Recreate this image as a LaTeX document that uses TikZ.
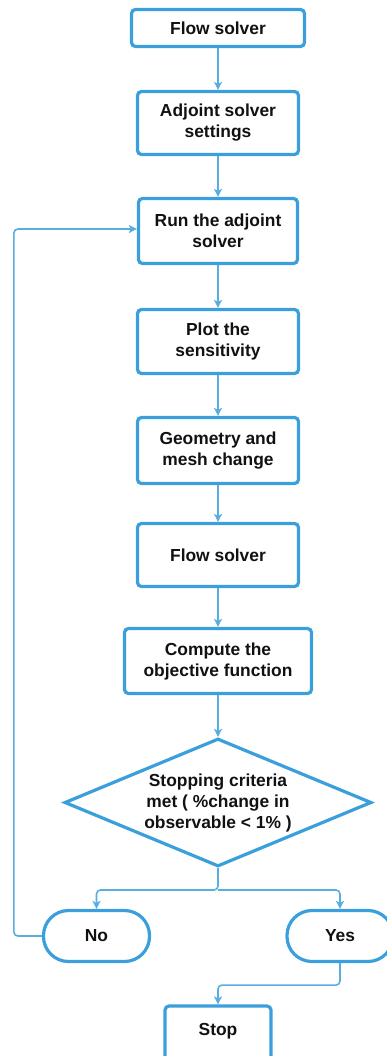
\documentclass[tikz,border=0pt]{standalone}
\usepackage{fontspec}
\setmainfont{Liberation Sans}
\usetikzlibrary{shapes.geometric,arrows.meta}
\definecolor{boxblue}{HTML}{3A9FDB}
\definecolor{linkblue}{HTML}{58AEE0}
\definecolor{ink}{HTML}{111111}
\begin{document}
\begin{tikzpicture}[x=1pt,y=-1pt,
  every node/.style={font=\bfseries\fontsize{17.4}{21}\selectfont, text=ink, align=center},
  proc/.style={draw=boxblue, line width=3.2pt, rounded corners=4pt, inner sep=0pt, fill=white},
  term/.style={draw=boxblue, line width=3.2pt, rounded corners=25pt, inner sep=0pt,
               minimum width=106pt, minimum height=51pt},
  decision/.style={shape=diamond, draw=boxblue, line width=3.2pt, aspect=2.37,
                   minimum width=307pt, minimum height=128pt, inner sep=0pt},
  link/.style={draw=linkblue, line width=1.6pt, rounded corners=4pt,
               -{Stealth[length=8pt,width=8pt,inset=2pt]}}]
\useasboundingbox (0,0) rectangle (387,1056);

% process chain
\node[proc, minimum width=173pt, minimum height=37pt] (flow1) at (218,28) {Flow solver};
\node[proc, minimum width=161pt, minimum height=63pt] (settings) at (218,123) {Adjoint solver\\settings};
\node[proc, minimum width=159pt, minimum height=65pt] (run) at (218,231) {Run the adjoint\\solver};
\node[proc, minimum width=161pt, minimum height=64pt] (plot) at (218,341.5) {Plot the\\sensitivity};
\node[proc, minimum width=161pt, minimum height=66pt] (geom) at (218,450.5) {Geometry and\\mesh change};
\node[proc, minimum width=161pt, minimum height=63pt] (flow2) at (218,555) {Flow solver};
\node[proc, minimum width=187pt, minimum height=65pt] (obj) at (218,661) {Compute the\\objective function};

% decision and its outcomes
\node[decision] (dec) at (218,802.5) {Stopping criteria\\met ( \%change in\\observable < 1\% )};
\node[term] (no) at (96.5,936) {No};
\node[term] (yes) at (340,936) {Yes};
\node[proc, minimum width=106pt, minimum height=70pt] (stop) at (218,1041) {};
\node at (218,1031) {Stop};

\coordinate (split) at (218,890);

% connectors
\draw[link] (flow1.south) -- (settings.north);
\draw[link] (settings.south) -- (run.north);
\draw[link] (run.south) -- (plot.north);
\draw[link] (plot.south) -- (geom.north);
\draw[link] (geom.south) -- (flow2.north);
\draw[link] (flow2.south) -- (obj.north);
\draw[link] (obj.south) -- (dec.north);
\draw[link] (dec.south) -- (split) -| (no.north);
\draw[link] (split) -| (yes.north);
\draw[link] (yes.south) -- ++(0,22) -| (stop.north);
\draw[link] (no.west) -- ++(-28,0) |- ([yshift=2pt]run.west);
\end{tikzpicture}
\end{document}
